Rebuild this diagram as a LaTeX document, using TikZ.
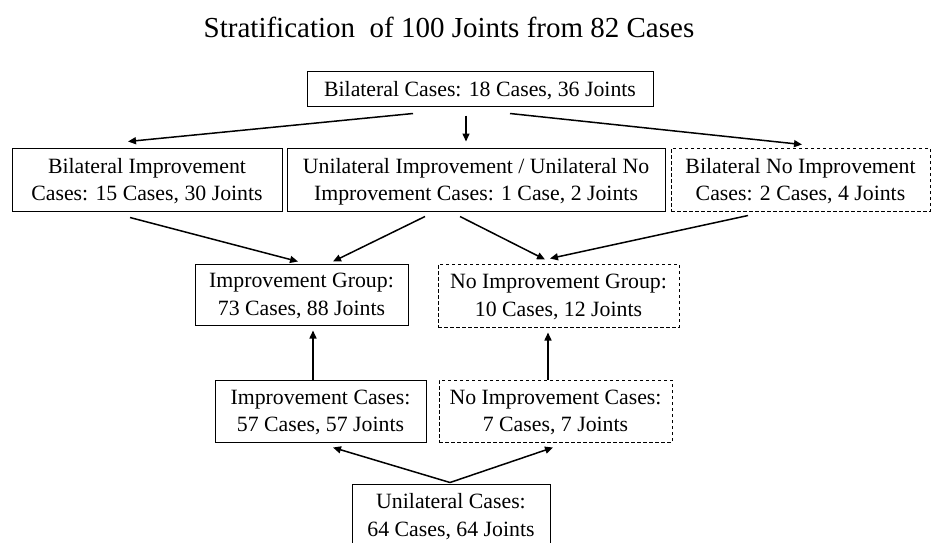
\documentclass[tikz,border=0pt]{standalone}
\usepackage{fontspec}
\setmainfont{Liberation Serif}
\usetikzlibrary{arrows.meta}
\begin{document}
\begin{tikzpicture}[x=1pt,y=-1pt,
  box/.style={draw,line width=1pt,inner sep=0pt,align=center,text depth=0pt,font=\fontsize{21.8}{27.5}\selectfont},
  dbox/.style={box,dash pattern=on 3.5pt off 2.5pt},
  arr/.style={line width=1.5pt,-{Triangle[length=8pt,width=7pt]}}]
\useasboundingbox (0,0) rectangle (933,542);
\node[font=\fontsize{29}{34}\selectfont] (title) at (449,27) {Stratification\ \ of 100 Joints from 82 Cases};
\node[box,minimum width=346pt,minimum height=35pt] (top) at (480,88.5) {Bilateral Cases: 18 Cases, 36 Joints};
\node[box,minimum width=270pt,minimum height=63pt] (bi) at (147,179.5) {Bilateral Improvement\\Cases: 15 Cases, 30 Joints};
\node[box,minimum width=378pt,minimum height=63pt] (uni) at (476,179.5) {Unilateral Improvement / Unilateral No\\Improvement Cases: 1 Case, 2 Joints};
\node[dbox,minimum width=259pt,minimum height=63pt] (bino) at (800.5,179.5) {Bilateral No Improvement\\Cases: 2 Cases, 4 Joints};
\node[box,minimum width=213pt,minimum height=61pt] (impg) at (301.5,294.5) {Improvement Group:\\73 Cases, 88 Joints};
\node[dbox,minimum width=241pt,minimum height=63pt] (nog) at (558.5,295.5) {No Improvement Group:\\10 Cases, 12 Joints};
\node[box,minimum width=211pt,minimum height=62pt] (impc) at (320.5,411) {Improvement Cases:\\57 Cases, 57 Joints};
\node[dbox,minimum width=233pt,minimum height=62pt] (noc) at (555.5,411) {No Improvement Cases:\\7 Cases, 7 Joints};
\node[box,minimum width=198pt,minimum height=62pt] (uc) at (451,515) {Unilateral Cases:\\64 Cases, 64 Joints};
\draw[arr] ([xshift=-67pt,yshift=-7pt]top.south) -- ([xshift=-19pt,yshift=6pt]bi.north);
\draw[arr] ([xshift=-14pt,yshift=-9pt]top.south) -- ([xshift=-10pt,yshift=6pt]uni.north);
\draw[arr] ([xshift=30pt,yshift=-7pt]top.south) -- ([xshift=1.5pt,yshift=3pt]bino.north);
\draw[arr] ([xshift=-17pt,yshift=-6pt]bi.south) -- ([xshift=-3.5pt,yshift=2pt]impg.north);
\draw[arr] ([xshift=-51pt,yshift=-5pt]uni.south) -- ([xshift=31.5pt,yshift=2pt]impg.north);
\draw[arr] ([xshift=-16pt,yshift=-5pt]uni.south) -- ([xshift=-13.5pt,yshift=4pt]nog.north);
\draw[arr] ([xshift=-52.5pt,yshift=-4pt]bino.south) -- ([xshift=-8.5pt,yshift=5pt]nog.north);
\draw[arr] ([xshift=-7.5pt]impc.north) -- ([xshift=11.5pt,yshift=-5pt]impg.south);
\draw[arr] ([xshift=-7.5pt]noc.north) -- ([xshift=-10.5pt,yshift=-5pt]nog.south);
\draw[arr] ([xshift=-1pt,yshift=1pt]uc.north) -- ([xshift=12.5pt,yshift=-5pt]impc.south);
\draw[arr] ([xshift=-1pt,yshift=1pt]uc.north) -- ([xshift=-2.5pt,yshift=-5pt]noc.south);
\end{tikzpicture}
\end{document}
